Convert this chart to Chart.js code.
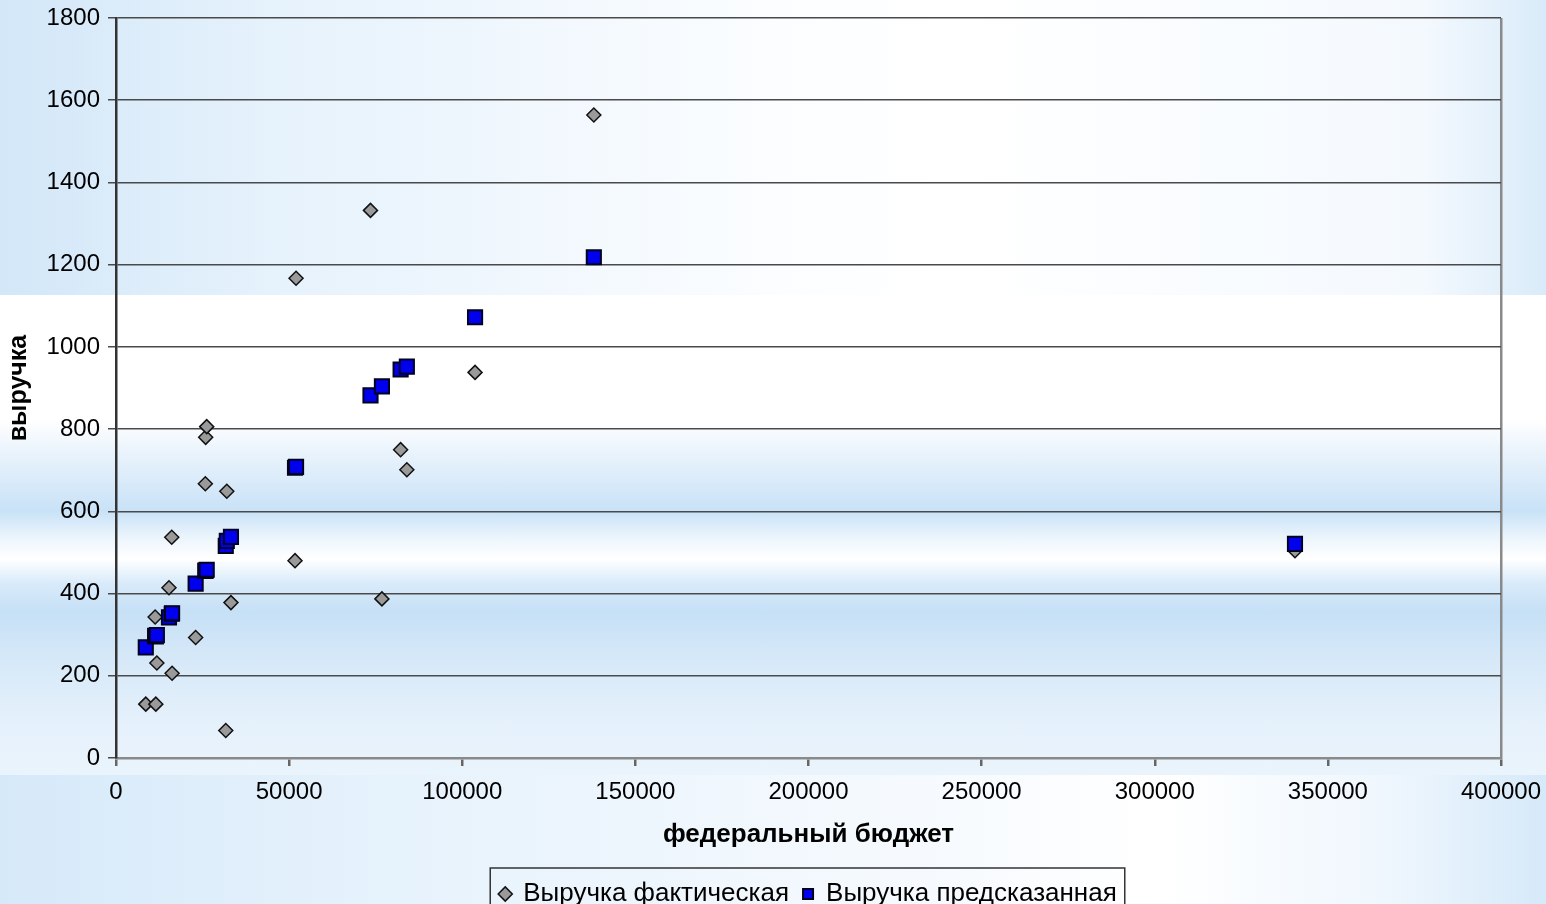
<!DOCTYPE html>
<html>
<head>
<meta charset="utf-8">
<script src="https://cdn.jsdelivr.net/npm/chart.js@4"></script>
<style>
  html, body { margin: 0; padding: 0; }
  body { width: 1546px; height: 904px; position: relative; overflow: hidden; }
  .bg { position: absolute; left: 0; width: 1546px; }
  #bgTop { top: 0; height: 295px;
    background: linear-gradient(to right, #d3e7f8 0%, #e6f2fc 18%, #fbfdff 50%, #ffffff 62%, #f4f9fe 92%, #d9ebf9 100%); }
  #bgMid { top: 295px; height: 480px;
    background: linear-gradient(to bottom, #ffffff 0%, #ffffff 26%, #e9f3fc 33%, #c9e2f7 45%, #eef6fd 51%, #ffffff 55%, #d9ebfa 60%, #c6e0f6 66%, #d5e8f8 75%, #e4f0fb 88%, #eaf4fc 100%); }
  #bgBot { top: 775px; height: 129px;
    background: linear-gradient(to right, #d6e9f9 0%, #e6f2fc 25%, #f6fafe 60%, #ffffff 75%, #eef6fd 90%, #d6e9f9 100%); }
  #wrap { position: absolute; left: 0; top: 0; width: 1546px; height: 904px; }
</style>
</head>
<body>
<div class="bg" id="bgTop"></div>
<div class="bg" id="bgMid"></div>
<div class="bg" id="bgBot"></div>
<div id="wrap"><canvas id="grafico" width="1546" height="904"></canvas></div>
<script>
// dados
const federalnyi = [8600, 11300, 11500, 11800, 15300, 16100, 16200, 23000, 25800, 25900, 26200,
    31700, 32000, 33200, 51700, 52000, 73500, 76800, 82200, 84000, 103700, 138000, 340500];
const vyruchkaFakt = [131, 343, 131, 231, 414, 537, 206, 293, 667, 780, 806,
    67, 649, 378, 480, 1167, 1332, 387, 750, 701, 938, 1564, 504];
const vyruchkaPred = [269, 297, 296, 299, 342, 351, 352, 424, 455, 456, 458,
    516, 528, 538, 706, 708, 882, 904, 945, 952, 1072, 1218, 521];

const rotulosSeries = ['Выручка фактическая', 'Выручка предсказанная'];
const tituloX = 'федеральный бюджет';
const tituloY = 'выручка';

const fonte = "Arial, 'Liberation Sans', sans-serif";

function pontos(ys) {
    return federalnyi.map((x, i) => ({ x: x, y: ys[i] }));
}

// legenda centrada na area do grafico + moldura
const molduraLegenda = {
    id: 'molduraLegenda',
    afterLayout(chart) {
        const lg = chart.legend;
        if (!lg) return;
        lg.left = chart.chartArea.left;
        lg.right = chart.chartArea.right;
        lg.width = lg.right - lg.left;
    },
    afterDraw(chart) {
        const lg = chart.legend;
        if (!lg || !lg.legendHitBoxes || !lg.legendHitBoxes.length) return;
        const hb = lg.legendHitBoxes;
        let esq = Math.min(...hb.map(h => h.left)) - 10;
        let dir = Math.max(...hb.map(h => h.left + h.width)) + 8;
        let topo = hb[0].top + hb[0].height / 2 - 26;
        const ctx = chart.ctx;
        ctx.save();
        ctx.strokeStyle = '#333';
        ctx.lineWidth = 1.5;
        ctx.strokeRect(esq, topo, dir - esq, 60);
        ctx.restore();
    }
};

const ctx = document.getElementById('grafico').getContext('2d');
new Chart(ctx, {
    type: 'scatter',
    data: {
        datasets: [{
            label: rotulosSeries[0],
            data: pontos(vyruchkaFakt),
            pointStyle: 'rectRot',
            pointRadius: 7,
            pointHoverRadius: 7,
            backgroundColor: '#9a9a9a',
            borderColor: '#111',
            borderWidth: 1.5,
            order: 2
        }, {
            label: rotulosSeries[1],
            data: pontos(vyruchkaPred),
            pointStyle: 'rect',
            pointRadius: 10,
            pointHoverRadius: 10,
            backgroundColor: '#0000ee',
            borderColor: '#000022',
            borderWidth: 2,
            order: 1
        }]
    },
    options: {
        responsive: false,
        animation: false,
        devicePixelRatio: 1,
        layout: { padding: { top: 18, right: 45, left: 0, bottom: -13 } },
        plugins: {
            legend: {
                position: 'bottom',
                labels: {
                    usePointStyle: true,
                    boxWidth: 10,
                    boxHeight: 10,
                    padding: 14,
                    color: '#000',
                    font: { family: fonte, size: 26 },
                    sort: (a, b) => a.datasetIndex - b.datasetIndex
                }
            },
            tooltip: { enabled: false }
        },
        scales: {
            x: {
                type: 'linear',
                min: 0,
                max: 400000,
                afterFit: (s) => { s.height = 109; s.paddingLeft = 0; s.paddingRight = 0; },
                ticks: {
                    stepSize: 50000,
                    color: '#000',
                    padding: 12,
                    maxRotation: 0,
                    font: { family: fonte, size: 24 },
                    callback: (v) => String(v)
                },
                grid: {
                    drawOnChartArea: true,
                    color: (c) => (c.tick && c.tick.value === 400000) ? '#8a8a8a' : 'rgba(0,0,0,0)',
                    lineWidth: 2.5,
                    tickColor: '#666',
                    tickLength: 8
                },
                border: { color: '#8a8a8a', width: 2.5 },
                title: {
                    display: true,
                    text: tituloX,
                    color: '#000',
                    font: { family: fonte, size: 26, weight: 'bold' },
                    padding: { top: 0, bottom: 17 }
                }
            },
            y: {
                min: 0,
                max: 1800,
                afterFit: (s) => { s.width = 116; s.paddingTop = 0; s.paddingBottom = 0; },
                ticks: {
                    stepSize: 200,
                    color: '#000',
                    padding: 8,
                    font: { family: fonte, size: 24 },
                    callback: (v) => String(v)
                },
                grid: {
                    color: '#4a4a4a',
                    lineWidth: 1.5,
                    tickLength: 8
                },
                border: { color: '#333', width: 2.5 },
                title: {
                    display: true,
                    text: tituloY,
                    color: '#000',
                    font: { family: fonte, size: 25, weight: 'bold' },
                    padding: { top: 4, bottom: 0 }
                }
            }
        }
    },
    plugins: [molduraLegenda]
});
</script>
</body>
</html>
